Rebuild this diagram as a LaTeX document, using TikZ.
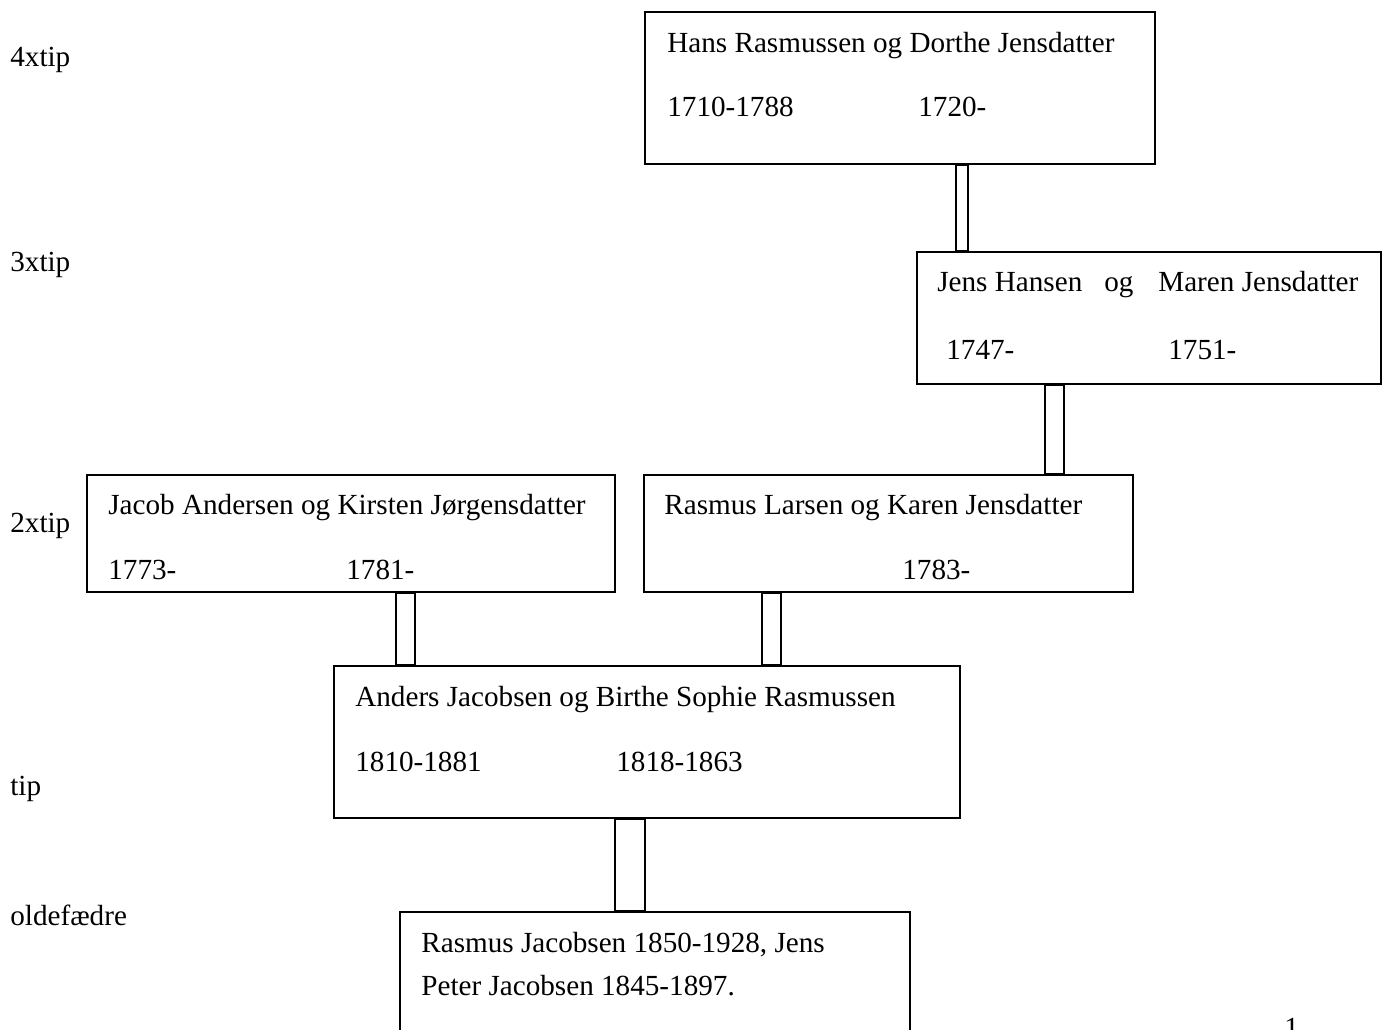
\documentclass[tikz,border=0pt]{standalone}
\usepackage{fontspec}
\setmainfont{Liberation Serif}
\usetikzlibrary{fit}

\tikzset{
  boks/.style={draw=black, line width=1.1pt, inner sep=0pt},
  navn/.style={anchor=base west, inner sep=0pt, font=\fontsize{16.6}{20}\selectfont},
  led/.style={anchor=base west, inner sep=0pt, font=\fontsize{16.6}{20}\selectfont},
  stang/.style={draw=black, line width=1.1pt}
}

\begin{document}
\begin{tikzpicture}[x=0.02cm, y=-0.02cm]
        \useasboundingbox (0,0) rectangle (1387,1030);

        % generations
        \node (g4) at (10,67) [led] {4xtip};
        \node (g3) at (10,272) [led] {3xtip};
        \node (g2) at (10,533) [led] {2xtip};
        \node (g1) at (10,795) [led] {tip};
        \node (g0) at (10,925) [led] {oldefædre};

        % boxes
        \node (hans) [boks, fit={(645,12) (1155,164)}] {};
        \node (jens) [boks, fit={(917,252) (1381,384)}] {};
        \node (jacob) [boks, fit={(87,475) (615,592)}] {};
        \node (larsen) [boks, fit={(644,475) (1133,592)}] {};
        \node (anders) [boks, fit={(334,666) (960,818)}] {};
        \node (rasmus) [boks, fit={(400,912) (910,1080)}] {};

        % names and years
        \node (hans1) at (667,53) [navn] {Hans Rasmussen og Dorthe Jensdatter};
        \node (hans2) at (667,117) [navn] {1710-1788};
        \node (hans3) at (918,117) [navn] {1720-};

        \node (jens1) at (937,292) [navn] {Jens Hansen};
        \node (jens2) at (1104,292) [navn] {og};
        \node (jens3) at (1158,292) [navn] {Maren Jensdatter};
        \node (jens4) at (946,360) [navn] {1747-};
        \node (jens5) at (1168,360) [navn] {1751-};

        \node (jacob1) at (108,515) [navn] {Jacob Andersen og Kirsten Jørgensdatter};
        \node (jacob2) at (108,580) [navn] {1773-};
        \node (jacob3) at (346,580) [navn] {1781-};

        \node (larsen1) at (664,515) [navn] {Rasmus Larsen og Karen Jensdatter};
        \node (larsen2) at (902,580) [navn] {1783-};

        \node (anders1) at (355,706) [navn] {Anders Jacobsen og Birthe Sophie Rasmussen};
        \node (anders2) at (355,771) [navn] {1810-1881};
        \node (anders3) at (616,771) [navn] {1818-1863};

        \node (rasmus1) at (421,952) [navn] {Rasmus Jacobsen 1850-1928, Jens};
        \node (rasmus2) at (421,995) [navn] {Peter Jacobsen 1845-1897.};

        % page number
        \node (side) at (1284,1037) [navn] {1};

        % connections
        \draw[stang] (956,0 |- hans.south) rectangle (968,0 |- jens.north);
        \draw[stang] (1045,0 |- jens.south) rectangle (1064,0 |- larsen.north);
        \draw[stang] (396,0 |- jacob.south) rectangle (415,0 |- anders.north);
        \draw[stang] (762,0 |- larsen.south) rectangle (781,0 |- anders.north);
        \draw[stang] (615,0 |- anders.south) rectangle (645,0 |- rasmus.north);
    \end{tikzpicture}
\end{document}
